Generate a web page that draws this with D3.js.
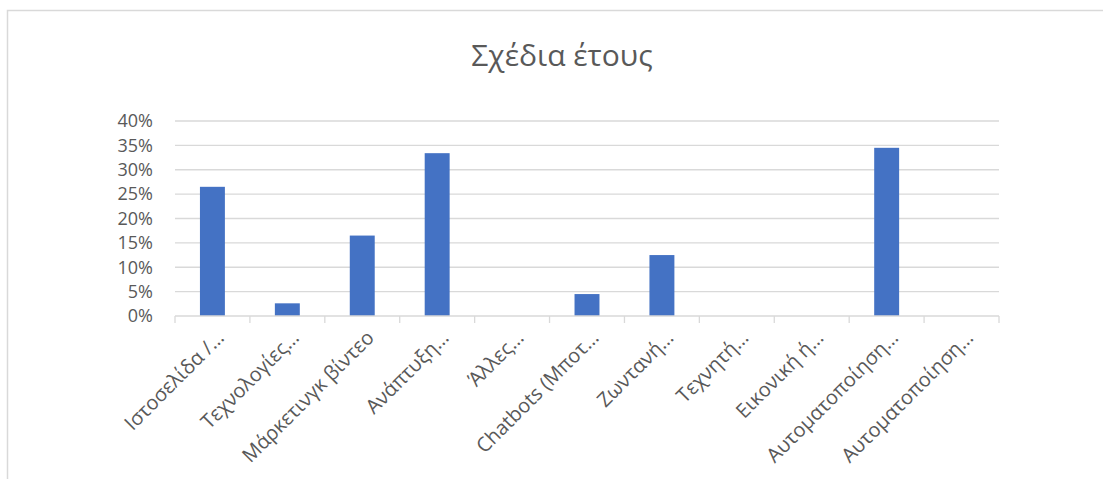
<!DOCTYPE html>
<html>
<head>
<meta charset="utf-8">
<script src="https://cdn.jsdelivr.net/npm/d3@7"></script>
<style>
  body { margin: 0; background: #fff; }
  svg text { font-family: "Open Sans", "Noto Sans", sans-serif; fill: #595959; }
</style>
</head>
<body>
<svg id="main"></svg>
<script>
// chart data
const categories = ["Ιστοσελίδα /…", "Τεχνολογίες…", "Μάρκετινγκ βίντεο", "Ανάπτυξη…", "Άλλες…",
  "Chatbots (Μποτ…", "Ζωντανή…", "Τεχνητή…", "Εικονική ή…", "Αυτοματοποίηση…", "Αυτοματοποίηση…"];
const values = [0.265, 0.026, 0.165, 0.334, 0, 0.045, 0.125, 0, 0, 0.345, 0];
const yTicks = [0, 0.05, 0.10, 0.15, 0.20, 0.25, 0.30, 0.35, 0.40];
const title = "Σχέδια έτους";

const W = 1103, H = 479;
const margin = {top: 121, right: 104, bottom: 163, left: 175};
const width = W - margin.left - margin.right;
const height = H - margin.top - margin.bottom;

const svg = d3.select("#main").attr("width", W).attr("height", H);

// chart area border (top and left visible)
svg.append("path")
  .attr("d", "M7.5,479 V10.5 H1103")
  .attr("fill", "none")
  .attr("stroke", "#d9d9d9")
  .attr("stroke-width", 1.5);

svg.append("text")
  .attr("x", 562).attr("y", 66)
  .attr("text-anchor", "middle")
  .style("font-size", "30px")
  .text(title);

const g = svg.append("g")
  .attr("transform", "translate(" + margin.left + "," + margin.top + ")");

const y = d3.scaleLinear().domain([0, 0.40]).range([height, 0]);
const x = d3.scaleBand()
  .domain(d3.range(categories.length))
  .range([0, width])
  .paddingInner(0.667).paddingOuter(0.333);

// gridlines
g.selectAll(".grid")
  .data(yTicks.slice(1))
  .enter().append("line")
  .attr("x1", 0).attr("x2", width)
  .attr("y1", d => y(d)).attr("y2", d => y(d))
  .attr("stroke", "#d9d9d9").attr("stroke-width", 1.3);

// y axis labels
const yAxis = g.append("g")
  .call(d3.axisLeft(y).tickValues(yTicks).tickFormat(d3.format(".0%")).tickSize(0).tickPadding(22));
yAxis.select(".domain").remove();
yAxis.selectAll("text").style("font-size", "18px").attr("fill", "#595959");

// bars
g.selectAll(".bar")
  .data(values)
  .enter().append("rect")
  .attr("x", (d, i) => x(i))
  .attr("y", d => y(d))
  .attr("width", x.bandwidth())
  .attr("height", d => height - y(d))
  .attr("fill", "#4472c4");

// x axis line and ticks
const step = width / categories.length;
g.append("line")
  .attr("x1", 0).attr("x2", width)
  .attr("y1", height).attr("y2", height)
  .attr("stroke", "#d9d9d9").attr("stroke-width", 1.3);
g.selectAll(".xtick")
  .data(d3.range(categories.length + 1))
  .enter().append("line")
  .attr("x1", d => d * step).attr("x2", d => d * step)
  .attr("y1", height).attr("y2", height + 7)
  .attr("stroke", "#d9d9d9").attr("stroke-width", 1.3);

// rotated category labels
g.selectAll(".xlabel")
  .data(categories)
  .enter().append("text")
  .attr("transform", (d, i) => "translate(" + (x(i) + x.bandwidth() / 2 + 8) + "," + (height + 18) + ") rotate(-45)")
  .attr("text-anchor", "end")
  .attr("dy", "0.35em")
  .style("font-size", "20px")
  .text(d => d);
</script>
</body>
</html>
